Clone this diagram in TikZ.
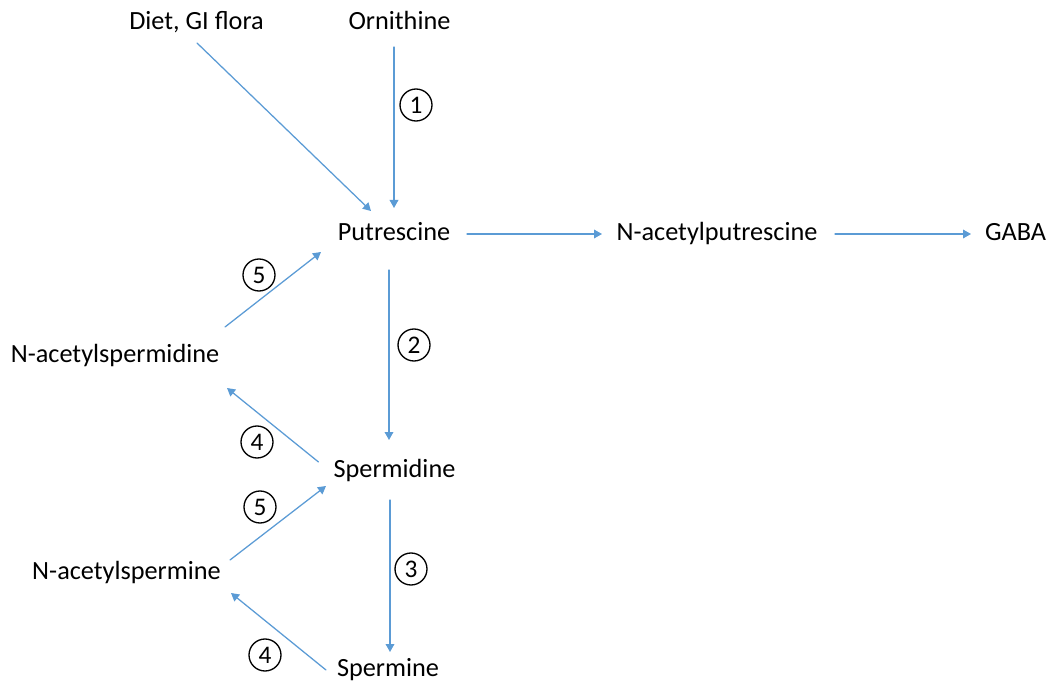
\documentclass[tikz,border=0pt]{standalone}
\usepackage{fontspec}
\setmainfont{Carlito}
\usetikzlibrary{arrows.meta}
\definecolor{flowblue}{HTML}{5B9BD5}
\begin{document}
\begin{tikzpicture}[x=0.75pt,y=-0.75pt,>={Triangle[length=6pt,width=6.5pt]}, font=\fontsize{19.7}{24}\selectfont, line join=round, line cap=round]
		\tikzset{mol/.style={anchor=base,inner sep=0pt},
			flow/.style={->,draw=flowblue,line width=0.95pt},
			enzyme/.style={circle,draw,line width=1pt,minimum size=24pt,inner sep=0pt,font=\fontsize{19}{20}\selectfont}}
		\useasboundingbox (0,0) rectangle (1053,684);
		% metabolites
		\node[mol] (diet) at (196.5,30) {Diet, GI flora};
		\node[mol] (orn) at (399.5,30) {Ornithine};
		\node[mol] (putr) at (394,241) {Putrescine};
		\node[mol] (nap) at (717,241) {N-acetylputrescine};
		\node[mol] (gaba) at (1015.5,241) {GABA};
		\node[mol] (nasd) at (115,362) {N-acetylspermidine};
		\node[mol] (spd) at (394.5,477) {Spermidine};
		\node[mol] (nasm) at (126.5,579) {N-acetylspermine};
		\node[mol] (spm) at (388,676) {Spermine};
		% reactions
		\draw[flow] ([shift={(0.5,13)}]diet.base) -- ([shift={(-23,-30)}]putr.base);
		\draw[flow] ([shift={(-5.5,17)}]orn.base) -- ([shift={(0,-33)}]putr.base);
		\draw[flow] ([shift={(73,-7)}]putr.base) -- ([shift={(-115,-7)}]nap.base);
		\draw[flow] ([shift={(118,-7)}]nap.base) -- ([shift={(-44.5,-7)}]gaba.base);
		\draw[flow] ([shift={(-5,29)}]putr.base) -- ([shift={(-5.5,-37)}]spd.base);
		\draw[flow] ([shift={(110,-35)}]nasd.base) -- ([shift={(-73,11)}]putr.base);
		\draw[flow] ([shift={(-76,-15)}]spd.base) -- ([shift={(112,26)}]nasd.base);
		\draw[flow] ([shift={(103.5,-19)}]nasm.base) -- ([shift={(-68.5,9)}]spd.base);
		\draw[flow] ([shift={(-4.5,23)}]spd.base) -- ([shift={(2,-24)}]spm.base);
		\draw[flow] ([shift={(-62,-6)}]spm.base) -- ([shift={(104.5,14)}]nasm.base);
		% enzymes
		\node[enzyme] (e1) at (416,105) {1};
		\node[enzyme] (e2) at (414,345) {2};
		\node[enzyme] (e3) at (411,569) {3};
		\node[enzyme] (e4a) at (257,442) {4};
		\node[enzyme] (e4b) at (265,655) {4};
		\node[enzyme] (e5a) at (259,275) {5};
		\node[enzyme] (e5b) at (260,507) {5};
\end{tikzpicture}
\end{document}
